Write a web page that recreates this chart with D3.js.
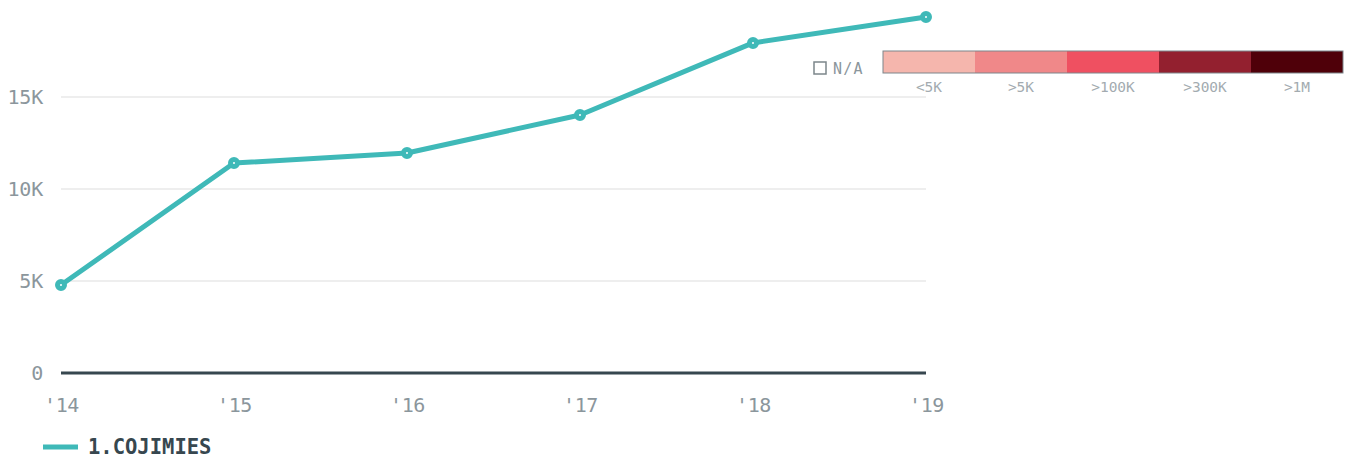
<!DOCTYPE html>
<html>
<head>
<meta charset="utf-8">
<script src="https://cdn.jsdelivr.net/npm/d3@7"></script>
<style>
  body { margin: 0; background: #fff; }
  svg text { font-family: "DejaVu Sans Mono", "Liberation Mono", monospace; }
</style>
</head>
<body>
<svg id="chart" width="1353" height="459"></svg>
<script>
// data
const years = ["'14", "'15", "'16", "'17", "'18", "'19"];
const values = [4780, 11410, 11960, 14020, 17940, 19350];
const seriesName = "1.COJIMIES";
const yTicks = [0, 5000, 10000, 15000];
const binLabels = ["<5K", ">5K", ">100K", ">300K", ">1M"];
const binColors = ["#f5b6ad", "#f08889", "#ef5061", "#93202f", "#4f0009"];

const teal = "#3fb9b8";
const axisGrey = "#8b969c";

const svg = d3.select("#chart");

// scales
const x = d3.scalePoint().domain(years).range([61, 926]);
const y = d3.scaleLinear().domain([0, 15000]).range([373, 97]);

// grid lines
svg.append("g")
  .selectAll("line")
  .data(yTicks.filter(d => d > 0))
  .join("line")
  .attr("x1", 61).attr("x2", 926)
  .attr("y1", d => y(d)).attr("y2", d => y(d))
  .attr("stroke", "#e8e8e8")
  .attr("stroke-width", 1.5);

// y axis labels
const yAxis = svg.append("g")
  .attr("transform", "translate(43,0)")
  .call(d3.axisLeft(y).tickValues(yTicks).tickSize(0)
    .tickFormat(d => d === 0 ? "0" : d / 1000 + "K"));
yAxis.select(".domain").remove();
yAxis.selectAll("text")
  .attr("fill", axisGrey)
  .attr("font-size", 20)
  .attr("x", 0)
  .attr("letter-spacing", -0.2)
  .style("font-family", "DejaVu Sans Mono");

// x axis labels
const xAxis = svg.append("g")
  .attr("transform", "translate(0,373)")
  .call(d3.axisBottom(x).tickSize(0));
xAxis.select(".domain").remove();
xAxis.selectAll("text")
  .attr("fill", axisGrey)
  .attr("font-size", 20)
  .attr("dy", "1.25em")
  .attr("y", 14)
  .attr("letter-spacing", -0.3)
  .style("font-family", "DejaVu Sans Mono");

// baseline
svg.append("line")
  .attr("x1", 61).attr("x2", 926)
  .attr("y1", y(0)).attr("y2", y(0))
  .attr("stroke", "#37474f")
  .attr("stroke-width", 3);

// the line
const line = d3.line()
  .x((d, i) => x(years[i]))
  .y(d => y(d));

svg.append("path")
  .datum(values)
  .attr("d", line)
  .attr("fill", "none")
  .attr("stroke", teal)
  .attr("stroke-width", 5)
  .attr("stroke-linejoin", "round");

svg.append("g")
  .selectAll("circle")
  .data(values)
  .join("circle")
  .attr("cx", (d, i) => x(years[i]))
  .attr("cy", d => y(d))
  .attr("r", 3.5)
  .attr("fill", "#fff")
  .attr("stroke", teal)
  .attr("stroke-width", 5);

// series legend
const leg = svg.append("g").attr("transform", "translate(43,447)");
leg.append("line")
  .attr("x1", 0).attr("x2", 35)
  .attr("stroke", teal).attr("stroke-width", 5);
leg.append("text")
  .attr("x", 45).attr("y", 7)
  .attr("fill", "#37474f")
  .attr("font-size", 20.5)
  .attr("font-weight", "bold")
  .text(seriesName);

// colour legend
const binX = d3.scaleBand().domain(binLabels).range([883, 1343]);
const cl = svg.append("g");
cl.selectAll("rect")
  .data(binLabels)
  .join("rect")
  .attr("x", d => binX(d)).attr("y", 51)
  .attr("width", binX.bandwidth()).attr("height", 22)
  .attr("fill", (d, i) => binColors[i]);
cl.append("rect")
  .attr("x", 883).attr("y", 51)
  .attr("width", 460).attr("height", 22)
  .attr("fill", "none")
  .attr("stroke", "#7c868b")
  .attr("stroke-width", 1);
cl.selectAll("text.bin")
  .data(binLabels)
  .join("text")
  .attr("class", "bin")
  .attr("x", d => binX(d) + binX.bandwidth() / 2)
  .attr("y", 92)
  .attr("text-anchor", "middle")
  .attr("fill", "#a3abb0")
  .attr("font-size", 14.5)
  .text(d => d);
cl.append("rect")
  .attr("x", 814).attr("y", 62)
  .attr("width", 12).attr("height", 12)
  .attr("fill", "none")
  .attr("stroke", "#7c868b")
  .attr("stroke-width", 1.5);
cl.append("text")
  .attr("x", 833).attr("y", 74)
  .attr("fill", "#8b969c")
  .attr("font-size", 15)
  .attr("letter-spacing", 1.2)
  .text("N/A");
</script>
</body>
</html>
